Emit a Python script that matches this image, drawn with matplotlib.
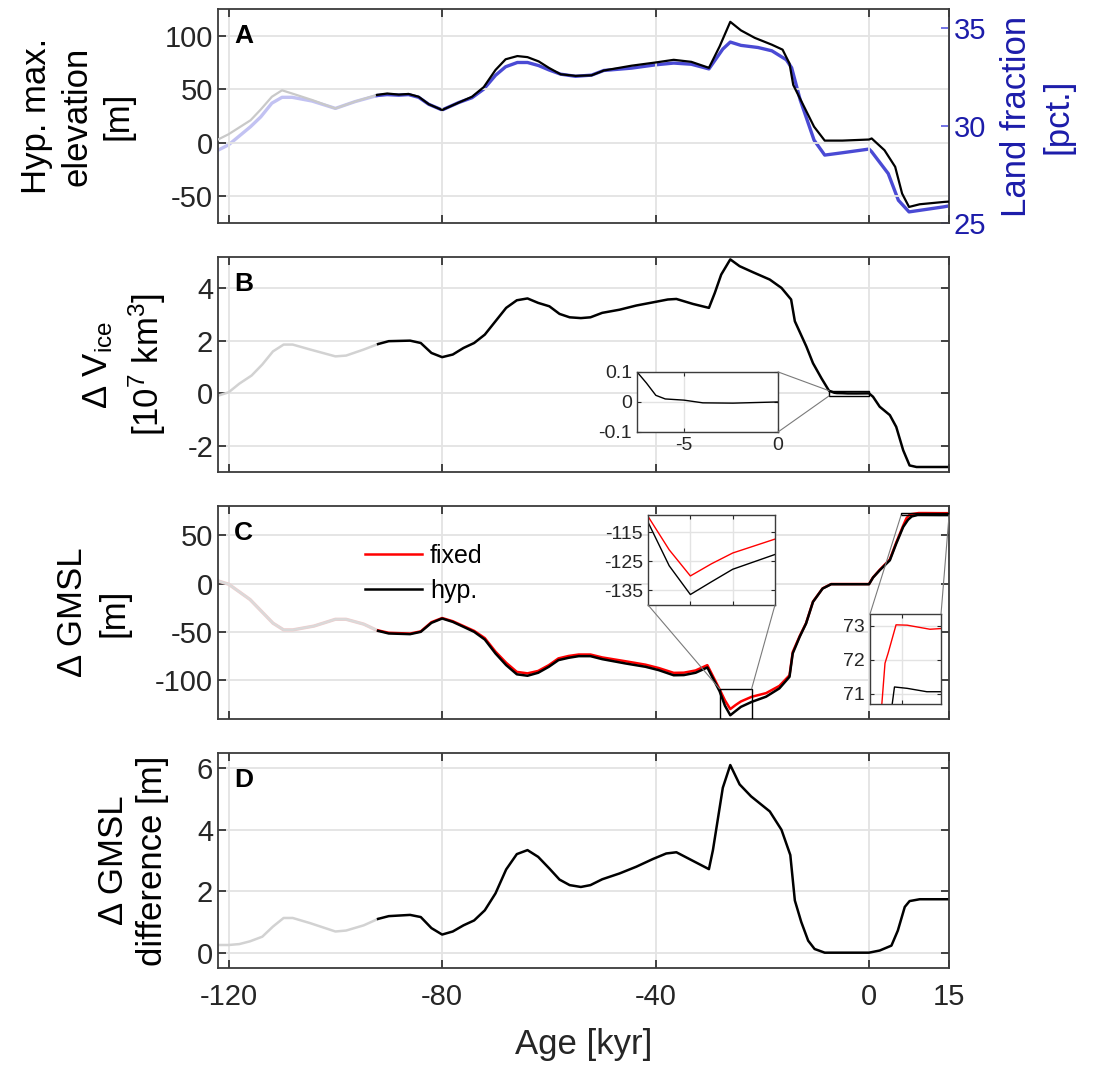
import numpy as np
import matplotlib
matplotlib.use("Agg")
import matplotlib.pyplot as plt
from matplotlib.patches import Rectangle, ConnectionPatch

plt.rcParams['font.family'] = ['Liberation Sans', 'DejaVu Sans']
plt.rcParams['mathtext.default'] = 'regular'
plt.rcParams['axes.unicode_minus'] = False

# ---- data (ages in kyr) ----
# A: hypsometric max. elevation [m] and land fraction [pct.]
t_a_old = [-122, -120, -115.9, -114, -111.9, -110, -108.1, -104.4, -100, -96.3, -92.2]
elev_old = [3, 8, 21, 31, 43, 49, 46, 40, 32, 38.5, 44.7]
land_old = [28.74, 29.02, 29.95, 30.45, 31.16, 31.46, 31.46, 31.27, 30.89, 31.24, 31.55]

t_elev = [-92.2, -90.3, -88.1, -86.3, -84.4, -82.5, -80, -76.9, -74.4, -72.2, -70, -68.1,
          -65.9, -64, -61.9, -60, -57.8, -55, -52, -49.7, -44.5, -40, -36.6, -33.3, -30,
          -28, -26, -24, -21.4, -18.2, -16.2, -14.9, -14.2, -12.2, -10.3, -8.3, -5, 0,
          0.5, 2.9, 4.9, 6.2, 7.5, 9.5, 14.1, 15]
elev = [44.7, 46, 45, 45.6, 43, 36, 30.6, 37.5, 43, 52, 68, 78, 81, 80, 76, 70, 64, 62.5,
        63, 67.5, 72, 75, 77.5, 75.6, 70, 90, 113, 105, 98, 91.6, 87, 74, 54, 34, 15, 2,
        2, 3, 4, -7, -22.5, -47.5, -60, -57.5, -55.3, -55]

t_land = [-92.2, -90.3, -88.1, -86.3, -84.4, -82.5, -80, -76.9, -74.4, -72.2, -70, -68.1,
          -65.9, -64, -61.9, -60, -57.8, -55, -52, -49.7, -44.5, -40, -36.6, -33.3, -30,
          -27.4, -26, -24, -20.8, -18.2, -15.5, -14.5, -12.9, -10.3, -8.3, -5, 0, 0.5,
          3.6, 5.5, 7.5, 14, 15]
land = [31.55, 31.6, 31.57, 31.6, 31.46, 31.1, 30.81, 31.19, 31.44, 31.88, 32.59, 33.03,
        33.25, 33.25, 33.09, 32.87, 32.65, 32.54, 32.6, 32.84, 32.96, 33.13, 33.22, 33.16,
        32.92, 33.94, 34.3, 34.13, 34.02, 33.85, 33.39, 32.98, 31.33, 29.26, 28.49, 28.61,
        28.8, 28.66, 27.54, 26.17, 25.57, 25.83, 25.88]

# B: ice volume change [10^7 km^3]
t_b_old = [-122, -120, -118, -115.7, -113.7, -111.7, -109.7, -108, -104.7, -100, -98, -94.7, -92]
dv_old = [-0.09, 0.04, 0.37, 0.68, 1.1, 1.6, 1.86, 1.86, 1.67, 1.41, 1.44, 1.67, 1.88]
t_b = [-92, -90, -86, -84, -82, -80, -78, -76, -74, -72, -70, -68, -66, -64, -62, -59.9,
       -58, -56.1, -54, -52.2, -50, -46.75, -43.6, -40.5, -37.7, -36.1, -33, -30, -28.9,
       -27.7, -26, -24.25, -21.75, -18.6, -16.4, -14.6, -13.9, -11.75, -10.5, -8.9, -7.5,
       -7, -6.5, -6, -5, -4, -2.4, 0, 0.75, 2, 3.9, 5.1, 6.4, 7.6, 8.9, 15]
dv = [1.88, 1.99, 2.01, 1.92, 1.54, 1.38, 1.48, 1.73, 1.92, 2.24, 2.75, 3.26, 3.55, 3.62,
      3.45, 3.32, 3.03, 2.9, 2.87, 2.9, 3.07, 3.19, 3.35, 3.47, 3.58, 3.6, 3.41, 3.26, 3.83,
      4.53, 5.11, 4.85, 4.62, 4.34, 4.02, 3.58, 2.75, 1.79, 1.15, 0.57, 0.1, 0.063, 0.022,
      0.01, 0.006, -0.003, -0.004, 0.0, -0.13, -0.51, -0.83, -1.28, -2.17, -2.75, -2.81, -2.81]

# C: GMSL change [m], fixed vs hyp.
t_c_old = [-122, -120, -116, -111.7, -109.7, -108, -104, -100, -98, -94.7, -92]
gmsl_old = [2.8, -0.7, -16.5, -41, -48, -48, -44, -37, -37, -42, -49]
t_c = [-92, -90, -86, -84, -82, -80, -78, -76, -74, -72, -70, -68, -66, -64, -62, -60,
       -58.2, -56.3, -54.4, -52.2, -50, -45.6, -41.9, -39.4, -36.6, -34.7, -32.5, -30.3,
       -28, -27, -26, -25, -24, -22, -19.3, -16.8, -14.9, -14.3, -13, -11.8, -10.5, -8.7,
       -7.1, 0, 0.75, 2, 3.9, 5.1]
gmsl_hyp = [-49, -51.7, -52.4, -50, -40.7, -36.2, -39.7, -44.8, -50, -58, -72.4, -84.5,
            -94, -95.5, -92.4, -86.2, -79.3, -76.9, -75.2, -75.2, -78.3, -82.8, -86.2,
            -89.7, -95, -94.8, -92.4, -86.9, -111.5, -126.5, -136.4, -132, -127.7, -122.6,
            -117.2, -108.6, -96.6, -72.4, -55.2, -41.4, -19, -5.2, -0.7, -0.7, 6.2, 13.8,
            24.1, 41.4]
gmsl_fix = [-48.5, -51, -51.8, -49.5, -40, -35.7, -39, -44, -49, -56.5, -70.5, -82, -91.5,
            -93, -90.5, -84.5, -77.5, -75, -73.5, -73.5, -76.5, -80.5, -84, -87.5, -92.5,
            -92.3, -90, -84.5, -109.5, -121, -130, -125.8, -122.1, -117.3, -113.5, -106,
            -95, -71, -54.5, -41, -18.7, -5, -0.5, -0.5, 6.4, 14.2, 25, 42.5]
t_hyp_end = [6.4, 7.3, 8.0, 8.7, 9.1, 10.7, 13.2, 15]
hyp_end = [58.6, 66, 69.5, 70.5, 71.2, 71.16, 71.06, 71.06]
t_fix_end = [6.4, 7.0, 7.5, 7.9, 8.3, 9.3, 10.7, 13.6, 15]
fix_end = [60, 67.5, 70.7, 71.9, 72.2, 73.03, 73.02, 72.9, 72.92]

# D: GMSL difference [m]
t_d_old = [-122, -120, -118, -116, -113.7, -111.7, -109.7, -108, -104.7, -100, -98, -94.7, -92]
diff_old = [0.25, 0.25, 0.28, 0.37, 0.52, 0.85, 1.13, 1.13, 0.96, 0.69, 0.72, 0.89, 1.1]
t_d = [-92, -90, -86, -84, -82, -80, -78, -76, -74, -72, -70, -68, -66, -64, -62, -59.9,
       -58, -56.1, -54, -52.2, -50, -46.75, -43.6, -40.5, -38, -36.1, -33, -30, -29.25,
       -27.4, -26, -24.25, -22.1, -18.6, -16.4, -14.75, -13.9, -12.7, -11.4, -10.2, -8.3,
       0, 2, 4.2, 5.4, 6.7, 7.6, 9.5, 15]
diff = [1.1, 1.19, 1.23, 1.16, 0.8, 0.59, 0.69, 0.89, 1.05, 1.38, 1.93, 2.71, 3.21, 3.34,
        3.12, 2.74, 2.38, 2.2, 2.14, 2.2, 2.39, 2.58, 2.8, 3.05, 3.23, 3.27, 2.99, 2.72,
        3.34, 5.37, 6.11, 5.48, 5.09, 4.6, 4.0, 3.18, 1.7, 1.0, 0.39, 0.12, 0.0, 0.0, 0.07,
        0.23, 0.72, 1.49, 1.68, 1.74, 1.74]

xticks = [-120, -80, -40, 0, 15]

GRID = '#e3e3e3'
SPINE = '#3c3c3c'
TXT = '#262626'
BLUE = '#4a4ad4'
BLUE_FADE = '#c2c2f2'
BLUE_TXT = '#1c1caa'
GREY = '#d2d2d2'
TICK_FS = 21
LAB_FS = 25
LSP = 1.3


def style(ax, ylim, yticks, right=True):
    ax.set_xlim(-122, 15)
    ax.set_xticks(xticks)
    ax.set_ylim(*ylim)
    ax.set_yticks(yticks)
    ax.grid(True, color=GRID, lw=1.3)
    ax.set_axisbelow(True)
    ax.tick_params(direction='in', length=6, width=1.2, top=True, right=right,
                   labelsize=TICK_FS, colors=TXT, labelcolor=TXT)
    ax.tick_params(axis='x', labelbottom=False)
    for s in ax.spines.values():
        s.set_color(SPINE)
        s.set_linewidth(1.3)


def style_inset(ax, xlim, ylim, xt, yt, xlabels=False):
    ax.set_xlim(*xlim)
    ax.set_ylim(*ylim)
    ax.set_xticks(xt)
    ax.set_yticks(yt)
    ax.grid(True, color=GRID, lw=1.0)
    ax.set_axisbelow(True)
    ax.tick_params(direction='in', length=3, width=0.8, top=True, right=True,
                   labelsize=14, colors=TXT, labelbottom=xlabels)
    for s in ax.spines.values():
        s.set_color(SPINE)
        s.set_linewidth(1.0)


def letter(ax, s):
    ax.text(0.022, 0.93, s, transform=ax.transAxes, fontsize=19, fontweight='bold',
            va='top', ha='left')


def connect(fig, ax_in, xy_in, ax_main, xy_main):
    con = ConnectionPatch(xyA=xy_in, coordsA=ax_in.transAxes, xyB=xy_main,
                          coordsB=ax_main.transData, color='#7a7a7a', lw=0.8)
    fig.add_artist(con)


fig = plt.figure(figsize=(11.01, 10.70), dpi=100)
L, W = 0.198, 0.664

# ---- A ----
axA = fig.add_axes([L, 0.7916, W, 0.200])
style(axA, (-75, 125), [-50, 0, 50, 100], right=False)
axA2 = axA.twinx()
axA2.set_ylim(25, 36)
axA2.set_yticks([25, 30, 35])
axA2.tick_params(direction='in', length=6, width=1.2, labelsize=TICK_FS, colors='#5a5ae0',
                 labelcolor=BLUE_TXT)
for s in ['left', 'top', 'bottom']:
    axA2.spines[s].set_visible(False)
axA2.spines['right'].set_color('#6a6ae6')
axA2.spines['right'].set_linewidth(1.3)
axA.plot(t_a_old, elev_old, color='#c9c9c9', lw=1.6, zorder=3)
axA.plot(t_elev, elev, color='black', lw=1.6, zorder=3)
axA2.plot(t_a_old, land_old, color=BLUE_FADE, lw=2.4, zorder=2)
axA2.plot(t_land, land, color=BLUE, lw=2.4, zorder=2)
axA.set_zorder(axA2.get_zorder() + 1)
axA.patch.set_visible(False)
axA.set_ylabel('Hyp. max.\nelevation\n[m]', fontsize=LAB_FS, linespacing=LSP, labelpad=22)
axA2.set_ylabel('Land fraction\n[pct.]', fontsize=LAB_FS, color=BLUE_TXT,
                linespacing=LSP, labelpad=10)
letter(axA, 'A')

# ---- B ----
axB = fig.add_axes([L, 0.5589, W, 0.2009])
style(axB, (-3, 5.2), [-2, 0, 2, 4])
axB.plot(t_b_old, dv_old, color=GREY, lw=1.8)
axB.plot(t_b, dv, color='black', lw=1.8)
axB.set_ylabel('Δ V$_{ice}$\n[10$^{7}$ km$^{3}$]', fontsize=LAB_FS, linespacing=1.35,
               labelpad=14)
letter(axB, 'B')
axB.add_patch(Rectangle((-7.5, -0.1), 7.5, 0.2, fill=False, ec='black', lw=1.0, zorder=4))

insB = fig.add_axes([0.5786, 0.5963, 0.1281, 0.0561])
style_inset(insB, (-7.5, 0), (-0.1, 0.1), [-5, 0], [-0.1, 0, 0.1], xlabels=True)
insB.set_yticklabels(['-0.1', '0', '0.1'])
insB.set_xticklabels(['-5', '0'])
insB.plot(t_b, dv, color='black', lw=1.0)
connect(fig, insB, (1, 1), axB, (-7.5, 0.1))
connect(fig, insB, (1, 0), axB, (-7.5, -0.1))

# ---- C ----
axC = fig.add_axes([L, 0.3283, W, 0.1985])
style(axC, (-140, 80), [-100, -50, 0, 50])
t_fix = t_c + t_fix_end
v_fix = gmsl_fix + fix_end
t_hyp = t_c + t_hyp_end
v_hyp = gmsl_hyp + hyp_end
axC.plot(t_c_old, gmsl_old, color='#f0cccc', lw=2.4)
axC.plot(t_c_old, gmsl_old, color='#dadada', lw=1.6)
axC.plot(t_fix, v_fix, color='red', lw=1.8, label='fixed')
axC.plot(t_hyp, v_hyp, color='black', lw=1.8, label='hyp.')
h, lb = axC.get_legend_handles_labels()
axC.legend(h, lb, loc='upper left', bbox_to_anchor=(0.17, 0.93), frameon=False,
           fontsize=18, handlelength=2.3, handletextpad=0.3, labelspacing=0.45)
axC.set_ylabel('Δ GMSL\n[m]', fontsize=LAB_FS, linespacing=LSP, labelpad=18)
letter(axC, 'C')
axC.add_patch(Rectangle((-28, -140), 6, 31, fill=False, ec='black', lw=1.0, zorder=4))
axC.add_patch(Rectangle((6, 70.7), 9, 2.65, fill=False, ec='black', lw=1.0, zorder=4))

insC1 = fig.add_axes([0.5886, 0.4346, 0.1153, 0.0841])
style_inset(insC1, (-28, -22), (-140, -109), [-26, -24], [-135, -125, -115])
insC1.plot(t_fix, v_fix, color='red', lw=1.0)
insC1.plot(t_hyp, v_hyp, color='black', lw=1.0)
connect(fig, insC1, (0, 0), axC, (-28, -109))
connect(fig, insC1, (1, 0), axC, (-22, -109))

insC2 = fig.add_axes([0.7902, 0.3421, 0.0645, 0.0841])
style_inset(insC2, (6, 15), (70.7, 73.35), [10], [71, 72, 73])
insC2.plot(t_fix, v_fix, color='red', lw=1.0)
insC2.plot(t_hyp, v_hyp, color='black', lw=1.0)
connect(fig, insC2, (0, 1), axC, (6, 70.7))
connect(fig, insC2, (1, 1), axC, (15, 70.7))

# ---- D ----
axD = fig.add_axes([L, 0.0953, W, 0.2009])
style(axD, (-0.5, 6.5), [0, 2, 4, 6])
axD.tick_params(axis='x', labelbottom=True, pad=11)
axD.plot(t_d_old, diff_old, color=GREY, lw=1.8)
axD.plot(t_d, diff, color='black', lw=1.8)
axD.set_ylabel('Δ GMSL\ndifference [m]', fontsize=LAB_FS, linespacing=1.25, labelpad=20)
axD.set_xlabel('Age [kyr]', fontsize=LAB_FS, color=TXT, labelpad=12)
letter(axD, 'D')

fig.savefig('out.png', dpi=100)
